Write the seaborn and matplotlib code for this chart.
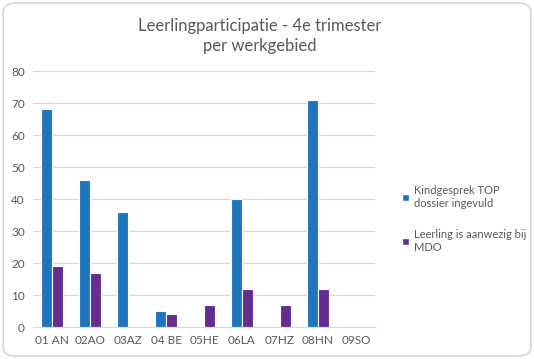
import pandas as pd
import seaborn as sns
import matplotlib.pyplot as plt
from matplotlib.patches import FancyBboxPatch, Patch

# data
werkgebieden = ["01 AN", "02AO", "03AZ", "04 BE", "05HE", "06LA", "07HZ", "08HN", "09SO"]
kindgesprek = [68, 46, 36, 5, 0, 40, 0, 71, 0]
aanwezig_mdo = [19, 17, 0, 4, 7, 12, 7, 12, 0]
series_names = ["Kindgesprek TOP\ndossier ingevuld", "Leerling is aanwezig bij\nMDO"]
y_ticks = [0, 10, 20, 30, 40, 50, 60, 70, 80]

df = pd.DataFrame({
    "werkgebied": werkgebieden * 2,
    "waarde": kindgesprek + aanwezig_mdo,
    "reeks": [series_names[0]] * len(werkgebieden) + [series_names[1]] * len(werkgebieden),
})

sns.set_style("white")
plt.rcParams["font.family"] = ["Lato", "DejaVu Sans"]
text_col = "#595959"
colors = ["#1F74BD", "#662D91"]

fig = plt.figure(figsize=(5.34, 3.59), dpi=100)
ax = fig.add_axes([0.062, 0.089, 0.640, 0.713])

sns.barplot(data=df, x="werkgebied", y="waarde", hue="reeks", palette=colors, saturation=1,
            width=0.58, edgecolor="white", linewidth=0.8, ax=ax, legend=False)

ax.set_ylim(0, 80)
ax.set_yticks(y_ticks)
ax.set_xlim(-0.5, len(werkgebieden) - 0.5)
ax.yaxis.grid(True, color="#D9D9D9", linewidth=0.8)
ax.set_axisbelow(True)
for s in ["top", "right", "left"]:
    ax.spines[s].set_visible(False)
ax.spines["bottom"].set_color("#D9D9D9")
ax.set_xlabel("")
ax.set_ylabel("")
ax.tick_params(axis="both", length=0, labelsize=8.5, colors=text_col, pad=6)

fig.text(0.487, 0.9, "Leerlingparticipatie - 4e trimester\nper werkgebied",
         ha="center", va="center", fontsize=12, color=text_col, linespacing=1.35)

handles = [Patch(facecolor=c, edgecolor="white") for c in colors]
fig.legend(handles, series_names, loc="center left", bbox_to_anchor=(0.735, 0.39),
           frameon=False, fontsize=8, labelcolor=text_col, handlelength=0.6,
           handleheight=0.6, handletextpad=0.4, labelspacing=1.8)

border = FancyBboxPatch((0.006, 0.008), 0.988, 0.984, boxstyle="round,pad=0,rounding_size=0.025",
                        transform=fig.transFigure, facecolor="none", edgecolor="#D0D0D0", linewidth=1)
fig.patches.append(border)

fig.savefig("out.png", dpi=100)
